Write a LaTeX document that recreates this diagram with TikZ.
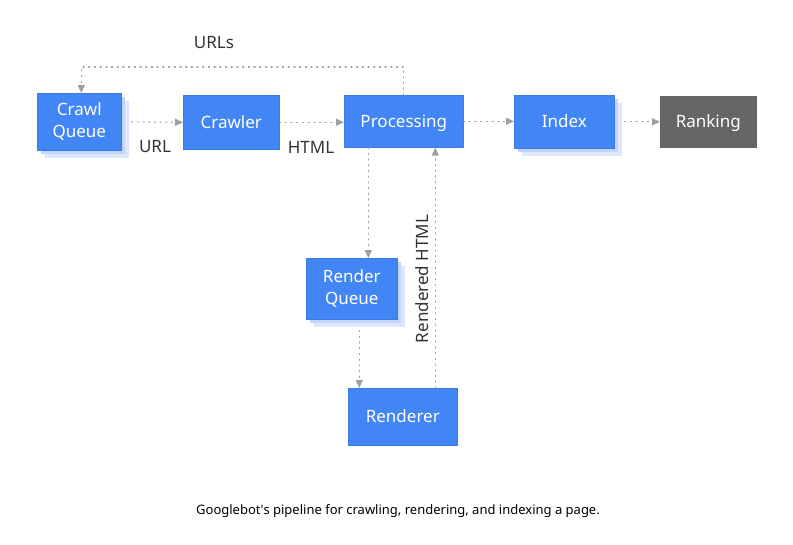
\documentclass[tikz,border=0pt]{standalone}
\usepackage{fontspec}
\setmainfont{Noto Sans}
\usetikzlibrary{arrows.meta,shadows,calc}
\definecolor{gblue}{HTML}{4285F4}
\definecolor{gblueedge}{HTML}{3B7AE6}
\definecolor{shadeA}{HTML}{C3D6FA}
\definecolor{shadeB}{HTML}{DCE7FC}
\definecolor{rankgray}{HTML}{666666}
\definecolor{arrgray}{HTML}{9AA0A6}
\definecolor{labelgray}{HTML}{333333}
\tikzset{
  box/.style={fill=gblue, draw=gblueedge, line width=0.6pt, text=white, align=center,
    font=\fontsize{17}{22}\selectfont, inner sep=0pt, anchor=north west},
  oneline/.style={text height=12.2pt, text depth=0pt},
  stackbox/.style={box,
    general shadow={shadow xshift=8pt, shadow yshift=-8pt, fill=shadeB, draw=none},
    general shadow={shadow xshift=4pt, shadow yshift=-4pt, fill=shadeA, draw=none}},
  flow/.style={draw=arrgray, line width=1.1pt, dash pattern=on 1.1pt off 4.6pt, line cap=round,
    -{Triangle[length=8pt,width=7pt,fill=arrgray,line cap=butt,sep=0pt]}},
  lbl/.style={text=labelgray, font=\fontsize{17}{20}\selectfont, inner sep=0pt}
}
\begin{document}
\begin{tikzpicture}[x=1pt,y=-1pt]
\useasboundingbox (0,0) rectangle (793,544);
% boxes
\node[stackbox, minimum width=84pt, minimum height=57pt] (cq) at (37,93) {Crawl\\Queue};
\node[box, oneline, minimum width=96pt, minimum height=54pt] (cr) at (183,95) {Crawler};
\node[box, oneline, minimum width=119pt, minimum height=52pt] (pr) at (344,95) {Processing};
\node[stackbox, oneline, minimum width=100pt, minimum height=53pt] (ix) at (514,95) {Index};
\node[box, oneline, fill=rankgray, draw=rankgray, minimum width=96pt, minimum height=51pt] (rk) at (660,96) {Ranking};
\node[stackbox, minimum width=91pt, minimum height=61pt] (rq) at (306,258) {Render\\Queue};
\node[box, oneline, minimum width=109pt, minimum height=57pt] (rn) at (348,388) {Renderer};
% connectors
\draw[flow] ([xshift=10pt]cq.east) -- (cr.west);
\draw[flow] (cr.east) -- (cr.east -| pr.west);
\draw[flow] (pr.east) -- (pr.east -| ix.west);
\draw[flow] ([xshift=10pt]ix.east) -- (ix.east -| rk.west);
\coordinate (u1) at ($(pr.north)+(0,-28)$);
\coordinate (u2) at ($(cq.north)+(2,-26)$);
\draw[flow] (pr.north) -- (u1) -- (u1 -| u2) -- (u2 |- cq.north);
\node[lbl] (urls) at (214,43) {URLs};
\node[lbl] (url) at (155,147) {URL};
\node[lbl] (html) at (311,147) {HTML};
\coordinate (d1) at ([xshift=-35.5pt]pr.south);
\draw[flow] (d1) -- (d1 |- rq.north);
\coordinate (d2) at ([xshift=7.5pt, yshift=-11pt]rq.south);
\draw[flow] (d2) -- (d2 |- rn.north);
\coordinate (d3) at ([xshift=32.5pt]rn.north);
\draw[flow] (d3) -- (d3 |- pr.south);
\node[lbl, rotate=90] (rh) at (422,279) {Rendered HTML};
\node[inner sep=0pt, font=\fontsize{13}{15}\selectfont] (cap) at (398,511) {Googlebot\textquotesingle s pipeline for crawling, rendering, and indexing a page.};
\end{tikzpicture}
\end{document}
